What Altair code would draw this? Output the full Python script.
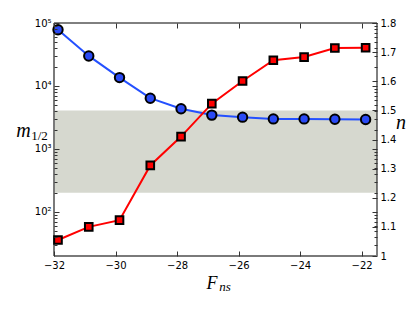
import altair as alt
import pandas as pd

# ---- data ----
F_ns = [-31.87, -30.87, -29.87, -28.87, -27.87, -26.87, -25.87, -24.87, -23.87, -22.87, -21.87]
m_half = [78000, 30000, 13600, 6400, 4350, 3450, 3200, 3000, 3000, 2970, 2940]
n_index = [1.055, 1.100, 1.123, 1.311, 1.410, 1.523, 1.601, 1.672, 1.683, 1.714, 1.715]
band_n = [1.217, 1.5]

x_tick_values = [-32, -30, -28, -26, -24, -22]
n_tick_values = [1.0, 1.1, 1.2, 1.3, 1.4, 1.5, 1.6, 1.7, 1.8]
log_major = [100, 1000, 10000, 100000]
log_minor = [30, 40, 50, 60, 70, 80, 90,
             200, 300, 400, 500, 600, 700, 800, 900,
             2000, 3000, 4000, 5000, 6000, 7000, 8000, 9000,
             20000, 30000, 40000, 50000, 60000, 70000, 80000, 90000]

W, H = 323, 233
MAJ, MIN = 5, 3
BLUE = "#2a4af5"
BLUE_LINE = "#2450ff"
RED = "#ff0000"
BAND = "#d6d8cf"

df = pd.DataFrame({"F": F_ns, "m": m_half, "n": n_index})
band_df = pd.DataFrame({"lo": [band_n[0]], "hi": [band_n[1]]})
one = pd.DataFrame({"k": [0]})


def xsc():
    return alt.Scale(domain=[-32, -21.5], nice=False, zero=False)


def msc():
    return alt.Scale(type="log", domain=[20, 100000], nice=False)


def nsc():
    return alt.Scale(domain=[1.0, 1.8], nice=False, zero=False)


def ax(orient, values, size, labels=True, **kw):
    return alt.Axis(orient=orient, values=values, tickSize=size, offset=-size,
                    labels=labels, grid=False, domain=False, title=None, zindex=2,
                    tickColor="#333333", tickWidth=1, labelColor="#000000",
                    labelFont="DejaVu Sans", labelFontSize=10,
                    labelFlush=False, labelOverlap=False, **kw)


log_label = ("datum.value == 100 ? '10\u00b2' : datum.value == 1000 ? '10\u00b3' : "
             "datum.value == 10000 ? '10\u2074' : '10\u2075'")

band = alt.Chart(band_df).mark_rect(color=BAND).encode(
    x=alt.value(0), x2=alt.value(W),
    y=alt.Y("lo:Q", scale=nsc(), axis=None), y2="hi:Q")

blue_line = alt.Chart(df).mark_line(color=BLUE_LINE, strokeWidth=2).encode(
    x=alt.X("F:Q", scale=xsc(), axis=ax("top", x_tick_values, MAJ, labels=False)),
    y=alt.Y("m:Q", scale=msc(), axis=ax("left", log_major, MAJ, labelExpr=log_label, labelPadding=3)))

blue_pts = alt.Chart(df).mark_point(shape="circle", filled=True, fill=BLUE, stroke="black",
                                    strokeWidth=2, size=88, opacity=1).encode(
    x=alt.X("F:Q", scale=xsc(), axis=None),
    y=alt.Y("m:Q", scale=msc(), axis=ax("left", log_minor, MIN, labels=False)))

mirror_major = alt.Chart(df).mark_point(opacity=0).encode(
    x=alt.X("F:Q", scale=xsc(), axis=None),
    y=alt.Y("m:Q", scale=msc(), axis=ax("right", log_major, MAJ, labels=False)))

mirror_minor = alt.Chart(df).mark_point(opacity=0).encode(
    x=alt.X("F:Q", scale=xsc(), axis=None),
    y=alt.Y("m:Q", scale=msc(), axis=ax("right", log_minor, MIN, labels=False)))

red_line = alt.Chart(df).mark_line(color=RED, strokeWidth=2).encode(
    x=alt.X("F:Q", scale=xsc(), axis=ax("bottom", x_tick_values, MAJ, format="d", labelPadding=4)),
    y=alt.Y("n:Q", scale=nsc(), axis=ax("right", n_tick_values, MAJ, format="~g", labelPadding=3)))

red_pts = alt.Chart(df).mark_point(shape="square", filled=True, fill=RED, stroke="black",
                                   strokeWidth=2, size=58, opacity=1).encode(
    x=alt.X("F:Q", scale=xsc(), axis=None),
    y=alt.Y("n:Q", scale=nsc(), axis=None))

# frame
frame_top = alt.Chart(one).mark_rule(color="black", strokeWidth=1).encode(
    x=alt.value(0), x2=alt.value(W), y=alt.value(0))
frame_right = alt.Chart(one).mark_rule(color="black", strokeWidth=1).encode(
    x=alt.value(W), y=alt.value(0), y2=alt.value(H))
frame_bottom = alt.Chart(one).mark_rule(color="#7a7a7a", strokeWidth=2).encode(
    x=alt.value(0), x2=alt.value(W), y=alt.value(H))
frame_left = alt.Chart(one).mark_rule(color="#7a7a7a", strokeWidth=2).encode(
    x=alt.value(0), y=alt.value(0), y2=alt.value(H))

# axis titles (math style)
SERIF = "Liberation Serif"
t_m = alt.Chart(one).mark_text(text="m", font=SERIF, fontStyle="italic", fontSize=20,
                               align="center", baseline="alphabetic", color="black").encode(
    x=alt.value(-30.5), y=alt.value(113.7))
t_m_sub = alt.Chart(one).mark_text(text="1/2", font=SERIF, fontSize=13,
                                   align="center", baseline="alphabetic", color="black").encode(
    x=alt.value(-14.5), y=alt.value(116.7))
t_n = alt.Chart(one).mark_text(text="n", font=SERIF, fontStyle="italic", fontSize=20,
                               align="center", baseline="alphabetic", color="black").encode(
    x=alt.value(347), y=alt.value(106))
t_F = alt.Chart(one).mark_text(text="F", font=SERIF, fontStyle="italic", fontSize=18,
                               align="center", baseline="alphabetic", color="black").encode(
    x=alt.value(158), y=alt.value(266))
t_F_sub = alt.Chart(one).mark_text(text="ns", font=SERIF, fontStyle="italic", fontSize=13,
                                   align="center", baseline="alphabetic", color="black").encode(
    x=alt.value(171), y=alt.value(268))

chart = alt.layer(
    band, frame_top, frame_right, frame_bottom, frame_left,
    blue_line, blue_pts, mirror_major, mirror_minor, red_line, red_pts,
    t_m, t_m_sub, t_n, t_F, t_F_sub,
).resolve_scale(x="independent", y="independent").resolve_axis(
    x="independent", y="independent"
).properties(
    width=W, height=H,
    autosize=alt.AutoSizeParams(type="none"),
    padding={"left": 46, "top": 15, "right": 30, "bottom": 48},
).configure_view(stroke=None)

chart.save("out.html", embed_options={"renderer": "svg", "actions": False})
